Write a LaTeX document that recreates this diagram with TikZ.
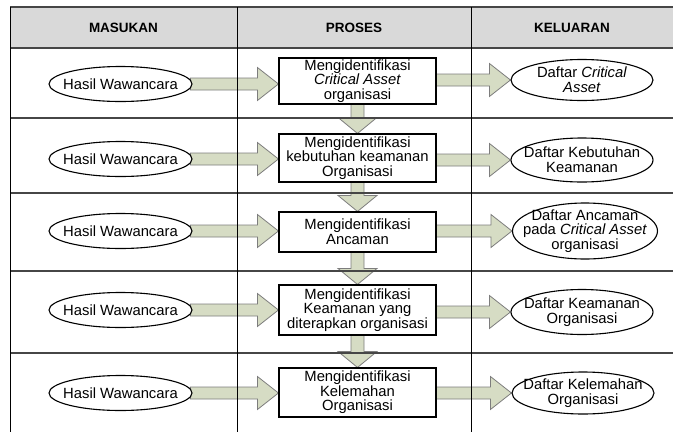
\documentclass[tikz,border=0pt]{standalone}
\usepackage{fontspec}
\setmainfont{Liberation Sans}
\usetikzlibrary{calc,shapes.geometric,backgrounds}

\definecolor{arrowfill}{RGB}{214,220,196}
\definecolor{arrowline}{RGB}{125,125,125}
\definecolor{headfill}{RGB}{217,217,217}
\definecolor{gridline}{RGB}{70,70,70}

\tikzset{
  txt/.style={font=\fontsize{14.8}{14.6}\selectfont, align=center, inner sep=0pt},
  headtxt/.style={font=\fontsize{13.5}{14}\selectfont\bfseries, inner sep=0pt},
  inell/.style={draw, ellipse, fill=white, line width=1.1pt, inner sep=0pt,
    minimum width=143pt, minimum height=35pt},
  outell/.style={draw, ellipse, fill=white, line width=1.1pt, inner sep=0pt,
    minimum width=142pt},
  procbox/.style={draw, rectangle, fill=white, line width=1.1pt, inner sep=1.5pt,
    minimum width=157pt, txt},
  blockarrow/.style={fill=arrowfill, draw=arrowline, line width=0.8pt, line join=miter},
  gridh/.style={draw=gridline, line width=1.4pt},
  gridv/.style={draw=black, line width=1pt}
}

% horizontal block arrow: from node #1 to node #2, at the height of node #3
\newcommand\harrow[3]{%
  \draw[blockarrow] let \p1=(#1.east), \p2=(#2.west), \p3=(#3.center) in
    (\x1-2,\y3+6) -- (\x2-21,\y3+6) -- (\x2-21,\y3+16.5) -- (\x2,\y3)
    -- (\x2-21,\y3-16.5) -- (\x2-21,\y3-6) -- (\x1-2,\y3-6) -- cycle;}

% vertical block arrow: from the bottom of node #1 down to the top of node #2
\newcommand\varrow[2]{%
  \draw[blockarrow] let \p1=(#1.south), \p2=(#2.north) in
    (\x1-6.5,\y1) -- (\x1-6.5,\y2+16) -- (\x1-19.5,\y2+16) -- (\x1,\y2)
    -- (\x1+19.5,\y2+16) -- (\x1+6.5,\y2+16) -- (\x1+6.5,\y1) -- cycle;}

\begin{document}
\begin{tikzpicture}[x=1pt, y=-1pt]
\useasboundingbox (0,0) rectangle (673,432);

% header band
\fill[headfill] (10,7) rectangle (673,48);
\node[headtxt] (hmasuk) at (123.5,27.5) {MASUKAN};
\node[headtxt] (hproses) at (354,27.5) {PROSES};
\node[headtxt] (hkeluar) at (572,27.5) {KELUARAN};

% inputs
\node[inell, label={[txt]center:Hasil Wawancara}] (in1) at (120.5,84) {};
\node[inell, label={[txt]center:Hasil Wawancara}] (in2) at (120.5,159) {};
\node[inell, label={[txt]center:Hasil Wawancara}] (in3) at (120.5,231) {};
\node[inell, label={[txt]center:Hasil Wawancara}] (in4) at (120.5,310) {};
\node[inell, label={[txt]center:Hasil Wawancara}] (in5) at (120.5,393) {};

% process steps
\node[procbox, minimum height=46pt] (p1) at (357.5,81)
  {Mengidentifikasi\\\textit{Critical Asset}\\organisasi};
\node[procbox, minimum height=48pt] (p2) at (357.5,158)
  {Mengidentifikasi\\kebutuhan keamanan\\Organisasi};
\node[procbox, minimum height=40pt] (p3) at (357.5,232)
  {Mengidentifikasi\\Ancaman};
\node[procbox, minimum height=50pt] (p4) at (357.5,310)
  {Mengidentifikasi\\Keamanan yang\\diterapkan organisasi};
\node[procbox, minimum height=49pt] (p5) at (357.5,392.5)
  {Mengidentifikasi\\Kelemahan\\Organisasi};

% outputs
\node[outell, minimum height=41pt,
  label={[txt]center:Daftar \textit{Critical}\\\textit{Asset}}] (out1) at (582,80) {};
\node[outell, minimum height=44pt,
  label={[txt]center:Daftar Kebutuhan\\Keamanan}] (out2) at (582,160) {};
\node[outell, minimum width=145pt, minimum height=56pt,
  label={[txt]center:Daftar Ancaman\\pada \textit{Critical Asset}\\organisasi}] (out3) at (585,231) {};
\node[outell, minimum height=45pt,
  label={[txt]center:Daftar Keamanan\\Organisasi}] (out4) at (582,312) {};
\node[outell, minimum height=42pt,
  label={[txt]center:Daftar Kelemahan\\Organisasi}] (out5) at (583,393) {};

% block arrows behind the shapes
\begin{scope}[on background layer]
  \harrow{in1}{p1}{in1} \harrow{p1}{out1}{out1}
  \harrow{in2}{p2}{in2} \harrow{p2}{out2}{out2}
  \harrow{in3}{p3}{in3} \harrow{p3}{out3}{out3}
  \harrow{in4}{p4}{in4} \harrow{p4}{out4}{out4}
  \harrow{in5}{p5}{in5} \harrow{p5}{out5}{out5}
  \varrow{p1}{p2}
  \varrow{p2}{p3}
  \varrow{p3}{p4}
  \varrow{p4}{p5}
\end{scope}

% table rules
\draw[gridh] (10,7) -- (673,7);
\draw[gridh] (10,48) -- (673,48);
\draw[gridh] (10,118) -- (673,118);
\draw[gridh] (10,193) -- (673,193);
\draw[gridh] (10,271) -- (673,271);
\draw[gridh] (10,353) -- (673,353);
\draw[gridv] (10,7) -- (10,432);
\draw[gridv] (237,7) -- (237,432);
\draw[gridv] (471,7) -- (471,432);
\end{tikzpicture}
\end{document}
